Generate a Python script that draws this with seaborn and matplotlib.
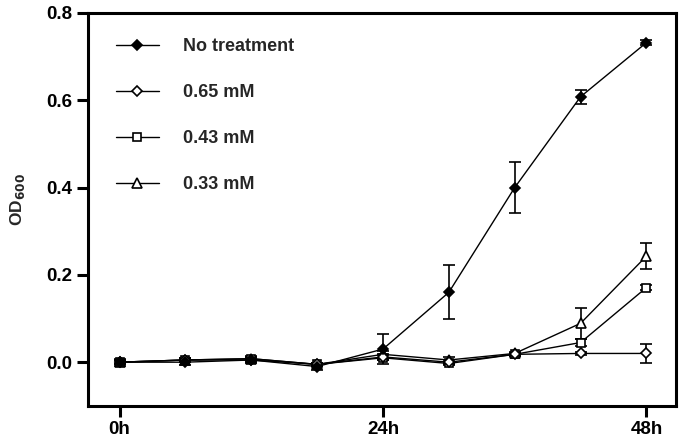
import numpy as np
import pandas as pd
import matplotlib
matplotlib.use("Agg")
import matplotlib.pyplot as plt
import seaborn as sns

# ------------------------------------------------------------
# Data (OD600 over time, mean +/- error)
# ------------------------------------------------------------
hours = [0, 6, 12, 18, 24, 30, 36, 42, 48]
series_names = ["No treatment", "0.65 mM", "0.43 mM", "0.33 mM"]

od_none = [0.000, 0.000, 0.005, -0.010, 0.030, 0.160, 0.400, 0.608, 0.732]
od_065 = [0.000, 0.005, 0.005, -0.005, 0.012, 0.000, 0.018, 0.020, 0.020]
od_043 = [0.000, 0.005, 0.008, -0.005, 0.010, -0.003, 0.018, 0.045, 0.171]
od_033 = [0.000, 0.005, 0.008, -0.005, 0.018, 0.005, 0.020, 0.089, 0.243]

err_none = [0.008, 0.006, 0.006, 0.008, 0.035, 0.062, 0.058, 0.016, 0.006]
err_065 = [0.004, 0.004, 0.004, 0.004, 0.006, 0.004, 0.004, 0.004, 0.022]
err_043 = [0.004, 0.004, 0.004, 0.004, 0.006, 0.004, 0.004, 0.008, 0.006]
err_033 = [0.004, 0.004, 0.006, 0.004, 0.008, 0.006, 0.004, 0.035, 0.030]

x_ticks = [0, 24, 48]
x_ticklabels = ["0h", "24h", "48h"]
y_ticks = [0.0, 0.2, 0.4, 0.6, 0.8]

df = pd.DataFrame({
    "hour": hours * 4,
    "od": od_none + od_065 + od_043 + od_033,
    "err": err_none + err_065 + err_043 + err_033,
    "group": [n for n in series_names for _ in hours],
})

styles = {
    "No treatment": dict(marker="D", mfc="black", ms=5.5),
    "0.65 mM": dict(marker="D", mfc="white", ms=5.5),
    "0.43 mM": dict(marker="s", mfc="white", ms=5.5),
    "0.33 mM": dict(marker="^", mfc="white", ms=6.5),
}

sns.set_style("ticks")
plt.rcParams["font.family"] = ["Liberation Sans", "DejaVu Sans"]
plt.rcParams["font.weight"] = "bold"

fig = plt.figure(figsize=(6.85, 4.45), dpi=100)
ax = fig.add_axes([0.128, 0.088, 0.859, 0.883])

# draw open-marker series first, filled control on top
for name in series_names[::-1]:
    sub = df[df["group"] == name]
    st = styles[name]
    ax.errorbar(sub["hour"], sub["od"], yerr=sub["err"], fmt="none",
                ecolor="black", elinewidth=1.2, capsize=4.5, capthick=1.2, zorder=2)
    sns.lineplot(data=sub, x="hour", y="od", ax=ax, color="black", lw=1.0,
                 marker=st["marker"], markersize=st["ms"], markerfacecolor=st["mfc"],
                 markeredgecolor="black", markeredgewidth=1.2, label=name,
                 errorbar=None, zorder=3)

ax.set_xlim(-2.9, 50.7)
ax.set_ylim(-0.1, 0.8)
ax.set_xticks(x_ticks)
ax.set_xticklabels(x_ticklabels)
ax.set_yticks(y_ticks)
ax.set_yticklabels([f"{v:.1f}" for v in y_ticks])
ax.set_xlabel("")
ax.set_ylabel("OD$_{\\mathbf{600}}$", fontsize=12.5, fontweight="bold")
ax.yaxis.set_label_coords(-0.103, 0.525)

for side in ["left", "right", "top", "bottom"]:
    ax.spines[side].set_visible(True)
    ax.spines[side].set_linewidth(2.2)
    ax.spines[side].set_color("black")
ax.tick_params(axis="both", direction="out", length=8, width=2.2,
               labelsize=13.5, colors="black", pad=3)
for lab in ax.get_xticklabels() + ax.get_yticklabels():
    lab.set_fontweight("bold")

handles, labels = ax.get_legend_handles_labels()
order = [labels.index(n) for n in series_names]
leg = ax.legend([handles[i] for i in order], [labels[i] for i in order],
                loc="upper left", bbox_to_anchor=(0.02, 0.977), frameon=False,
                prop={"weight": "bold", "size": 13}, handlelength=2.38,
                labelspacing=1.6, handletextpad=1.33)

fig.savefig("out.png", dpi=100)
